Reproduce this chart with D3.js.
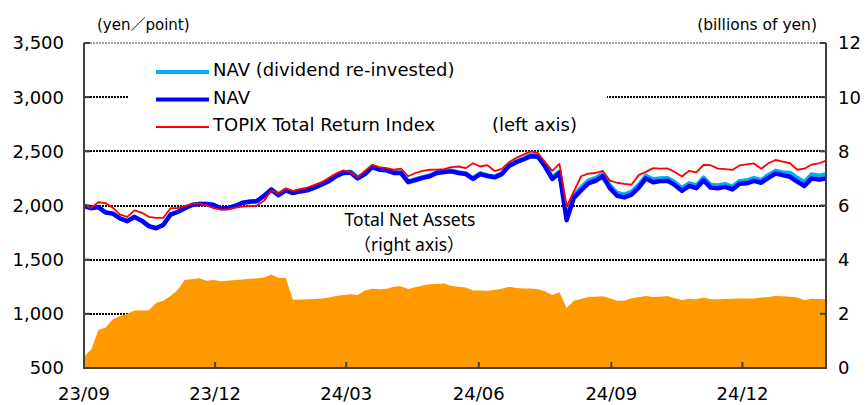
<!DOCTYPE html>
<html>
<head>
<meta charset="utf-8">
<script src="https://cdn.jsdelivr.net/npm/d3@7"></script>
<style>
  html, body { margin: 0; padding: 0; background: #fff; }
  svg { display: block; }
</style>
</head>
<body>
<div id="chart"></div>
<script>
// sample dates (every 5 days)
const dates = [
  '2023-09-01', '2023-09-06', '2023-09-11', '2023-09-16', '2023-09-21', '2023-09-26', '2023-10-01', '2023-10-06', '2023-10-11', '2023-10-16',
  '2023-10-21', '2023-10-26', '2023-10-31', '2023-11-05', '2023-11-10', '2023-11-15', '2023-11-20', '2023-11-25', '2023-11-30', '2023-12-05',
  '2023-12-10', '2023-12-15', '2023-12-20', '2023-12-25', '2023-12-30', '2024-01-04', '2024-01-09', '2024-01-14', '2024-01-19', '2024-01-24',
  '2024-01-29', '2024-02-03', '2024-02-08', '2024-02-13', '2024-02-18', '2024-02-23', '2024-02-28', '2024-03-04', '2024-03-09', '2024-03-14',
  '2024-03-19', '2024-03-24', '2024-03-29', '2024-04-03', '2024-04-08', '2024-04-13', '2024-04-18', '2024-04-23', '2024-04-28', '2024-05-03',
  '2024-05-08', '2024-05-13', '2024-05-18', '2024-05-23', '2024-05-28', '2024-06-02', '2024-06-07', '2024-06-12', '2024-06-17', '2024-06-22',
  '2024-06-27', '2024-07-02', '2024-07-07', '2024-07-12', '2024-07-17', '2024-07-22', '2024-07-27', '2024-08-01', '2024-08-06', '2024-08-11',
  '2024-08-16', '2024-08-21', '2024-08-26', '2024-08-31', '2024-09-05', '2024-09-10', '2024-09-15', '2024-09-20', '2024-09-25', '2024-09-30',
  '2024-10-05', '2024-10-10', '2024-10-15', '2024-10-20', '2024-10-25', '2024-10-30', '2024-11-04', '2024-11-09', '2024-11-14', '2024-11-19',
  '2024-11-24', '2024-11-29', '2024-12-04', '2024-12-09', '2024-12-14', '2024-12-19', '2024-12-24', '2024-12-29', '2025-01-03', '2025-01-08',
  '2025-01-13', '2025-01-18', '2025-01-23', '2025-01-28',
];

// NAV (dividend re-invested), yen
const navDividend = [
  1996, 1976, 1986, 1936, 1926, 1881, 1856, 1896, 1861, 1811,
  1791, 1821, 1916, 1941, 1976, 2006, 2016, 2016, 2006, 1976,
  1979, 1996, 2026, 2036, 2041, 2091, 2153, 2103, 2148, 2123,
  2138, 2148, 2173, 2203, 2233, 2278, 2308, 2313, 2258, 2298,
  2363, 2338, 2333, 2308, 2308, 2223, 2243, 2263, 2278, 2308,
  2318, 2323, 2308, 2298, 2253, 2298, 2280, 2268, 2298, 2373,
  2408, 2433, 2470, 2465, 2375, 2260, 2315, 1892, 2097, 2167,
  2232, 2255, 2297, 2187, 2117, 2102, 2127, 2192, 2277, 2242,
  2252, 2255, 2217, 2162, 2207, 2187, 2259, 2192, 2187, 2199,
  2175, 2227, 2232, 2255, 2237, 2282, 2322, 2307, 2303, 2258,
  2218, 2288, 2278, 2288,
];

// NAV, yen
const nav = [
  1995, 1975, 1985, 1935, 1925, 1880, 1855, 1895, 1860, 1810,
  1790, 1820, 1915, 1940, 1975, 2005, 2015, 2015, 2005, 1975,
  1978, 1995, 2025, 2035, 2040, 2090, 2145, 2095, 2140, 2115,
  2130, 2140, 2165, 2195, 2225, 2270, 2300, 2305, 2250, 2290,
  2355, 2330, 2325, 2300, 2300, 2215, 2235, 2255, 2270, 2300,
  2310, 2315, 2300, 2290, 2245, 2290, 2272, 2260, 2290, 2365,
  2400, 2425, 2455, 2450, 2360, 2245, 2300, 1865, 2070, 2140,
  2205, 2228, 2270, 2160, 2090, 2075, 2100, 2165, 2250, 2215,
  2225, 2228, 2190, 2135, 2180, 2160, 2232, 2165, 2160, 2172,
  2148, 2200, 2205, 2228, 2210, 2255, 2295, 2280, 2265, 2220,
  2180, 2250, 2240, 2250,
];

// TOPIX Total Return Index (rebased), points
const topixTR = [
  2000, 1978, 2030, 2022, 1980, 1915, 1895, 1955, 1935, 1895,
  1885, 1885, 1975, 1975, 1995, 2015, 2020, 2000, 1975, 1965,
  1965, 1980, 1990, 1995, 2000, 2045, 2140, 2115, 2155, 2135,
  2150, 2165, 2190, 2215, 2255, 2295, 2325, 2310, 2262, 2320,
  2375, 2355, 2345, 2330, 2340, 2270, 2300, 2320, 2330, 2332,
  2335, 2355, 2360, 2345, 2390, 2360, 2372, 2318, 2338, 2400,
  2440, 2470, 2500, 2485, 2400, 2320, 2385, 1990, 2130, 2270,
  2295, 2300, 2320, 2230, 2210, 2200, 2192, 2280, 2310, 2345,
  2340, 2342, 2310, 2268, 2320, 2305, 2375, 2372, 2340, 2335,
  2328, 2370, 2380, 2388, 2340, 2390, 2420, 2405, 2390, 2330,
  2340, 2378, 2388, 2415,
];

// Total Net Assets, billions of yen
const totalNetAssets = [
  0.42, 0.68, 1.40, 1.50, 1.80, 1.92, 2.00, 2.12, 2.12, 2.13,
  2.40, 2.48, 2.66, 2.88, 3.26, 3.28, 3.31, 3.22, 3.25, 3.20,
  3.22, 3.25, 3.27, 3.30, 3.31, 3.34, 3.45, 3.32, 3.33, 2.52,
  2.53, 2.54, 2.55, 2.57, 2.60, 2.66, 2.70, 2.72, 2.70, 2.86,
  2.93, 2.91, 2.93, 3.00, 3.02, 2.92, 2.98, 3.05, 3.09, 3.10,
  3.12, 3.03, 3.00, 2.97, 2.86, 2.86, 2.85, 2.88, 2.93, 3.00,
  2.95, 2.94, 2.94, 2.91, 2.83, 2.70, 2.80, 2.22, 2.48, 2.55,
  2.62, 2.63, 2.65, 2.58, 2.48, 2.48, 2.58, 2.61, 2.66, 2.62,
  2.63, 2.66, 2.58, 2.51, 2.56, 2.54, 2.60, 2.54, 2.54, 2.55,
  2.56, 2.57, 2.57, 2.57, 2.60, 2.62, 2.66, 2.65, 2.63, 2.60,
  2.51, 2.56, 2.55, 2.54,
];

// axis ticks
const leftTicks = [500, 1000, 1500, 2000, 2500, 3000, 3500];
const rightTicks = [0, 2, 4, 6, 8, 10, 12];
const monthTicks = ['2023-09-01', '2023-12-01', '2024-03-01', '2024-06-01', '2024-09-01', '2024-12-01'];

const legendLabels = ['NAV (dividend re-invested)', 'NAV', 'TOPIX Total Return Index'];

const width = 867;
const height = 405;
const margin = { top: 43, right: 41, bottom: 37, left: 84 };

const parse = d3.utcParse('%Y-%m-%d');
const days = dates.map(parse);

const svg = d3
  .select('#chart')
  .append('svg')
  .attr('width', width)
  .attr('height', height);

const x = d3
  .scaleUtc()
  .domain(d3.extent(days))
  .range([margin.left, width - margin.right]);

const yLeft = d3
  .scaleLinear()
  .domain([500, 3500])
  .range([height - margin.bottom, margin.top]);

const yRight = d3
  .scaleLinear()
  .domain([0, 12])
  .range([height - margin.bottom, margin.top]);

const font = 'DejaVu Sans, Verdana, sans-serif';
const axisColor = '#404040';

// dotted gridlines (the 1,000 line sits behind the area)
svg
  .append('g')
  .selectAll('line')
  .data(leftTicks.filter(d => d > 500 && d < 3500))
  .enter()
  .append('line')
  .attr('x1', margin.left)
  .attr('x2', width - margin.right)
  .attr('y1', d => Math.round(yLeft(d)))
  .attr('y2', d => Math.round(yLeft(d)))
  .style('stroke', '#000')
  .style('stroke-width', 2)
  .style('stroke-dasharray', '2,1')
  .style('shape-rendering', 'crispEdges');

// top border
svg
  .append('line')
  .attr('x1', margin.left)
  .attr('x2', width - margin.right)
  .attr('y1', Math.round(yLeft(3500)))
  .attr('y2', Math.round(yLeft(3500)))
  .style('stroke', '#a0a0a0')
  .style('stroke-width', 2)
  .style('stroke-dasharray', '2,1')
  .style('shape-rendering', 'crispEdges');

// total net assets area (right axis)
const area = d3
  .area()
  .x((d, i) => x(days[i]))
  .y0(yRight(0))
  .y1(d => yRight(d));

svg
  .append('path')
  .datum(totalNetAssets)
  .attr('d', area)
  .attr('fill', '#ff9900');

// legend background hides the 3,000 gridline
svg
  .append('rect')
  .attr('x', 128)
  .attr('y', 52)
  .attr('width', 479)
  .attr('height', 88)
  .attr('fill', '#fff');

// lines (left axis)
const line = d3
  .line()
  .x((d, i) => x(days[i]))
  .y(d => yLeft(d));

const series = [
  { values: navDividend, color: '#00b0f0', w: 4 },
  { values: nav, color: '#0000ff', w: 4.5 },
  { values: topixTR, color: '#ff0000', w: 1.8 },
];

svg
  .append('g')
  .selectAll('path')
  .data(series)
  .enter()
  .append('path')
  .attr('d', d => line(d.values))
  .attr('fill', 'none')
  .attr('stroke', d => d.color)
  .attr('stroke-width', d => d.w)
  .attr('stroke-linejoin', 'round');

// legend
const legend = svg
  .append('g')
  .selectAll('g')
  .data(series)
  .enter()
  .append('g')
  .attr('transform', (d, i) => `translate(156, ${72 + i * 27.5})`);

legend
  .append('line')
  .attr('x1', 0)
  .attr('x2', 53)
  .style('stroke', d => d.color)
  .style('stroke-width', d => (d.w > 2 ? 4 : 2));

legend
  .append('text')
  .text((d, i) => legendLabels[i])
  .attr('x', 57)
  .attr('y', 4)
  .style('font-family', font)
  .style('font-size', '18px')
  .style('fill', '#000');

svg
  .append('text')
  .text('(left axis)')
  .attr('x', 492)
  .attr('y', 131)
  .style('font-family', font)
  .style('font-size', '18px');

svg
  .append('text')
  .text('Total Net Assets')
  .attr('x', 410)
  .attr('y', 226)
  .style('text-anchor', 'middle')
  .style('font-family', 'Noto Sans, Noto Sans CJK JP, sans-serif')
  .style('font-size', '17.5px');

svg
  .append('text')
  .text('（right axis）')
  .attr('x', 409)
  .attr('y', 251)
  .style('text-anchor', 'middle')
  .style('font-family', 'Noto Sans, Noto Sans CJK JP, sans-serif')
  .style('font-size', '17.5px');

// axes frame
svg
  .append('path')
  .attr('d', `M${margin.left},${margin.top}V${height - margin.bottom}H${width - margin.right}V${margin.top}`)
  .attr('fill', 'none')
  .style('stroke', axisColor)
  .style('stroke-width', 2);

// inward ticks
svg
  .append('g')
  .selectAll('line')
  .data(leftTicks)
  .enter()
  .append('line')
  .attr('x1', margin.left)
  .attr('x2', margin.left + 6)
  .attr('y1', d => yLeft(d))
  .attr('y2', d => yLeft(d))
  .style('stroke', axisColor)
  .style('stroke-width', 2);

svg
  .append('g')
  .selectAll('line')
  .data(rightTicks)
  .enter()
  .append('line')
  .attr('x1', width - margin.right - 6)
  .attr('x2', width - margin.right)
  .attr('y1', d => yRight(d))
  .attr('y2', d => yRight(d))
  .style('stroke', axisColor)
  .style('stroke-width', 2);

svg
  .append('g')
  .selectAll('line')
  .data(monthTicks.map(parse))
  .enter()
  .append('line')
  .attr('x1', d => x(d))
  .attr('x2', d => x(d))
  .attr('y1', height - margin.bottom)
  .attr('y2', height - margin.bottom - 6)
  .style('stroke', axisColor)
  .style('stroke-width', 2);

// tick labels
const fmtLeft = d3.format(',');
svg
  .append('g')
  .selectAll('text')
  .data(leftTicks)
  .enter()
  .append('text')
  .text(d => fmtLeft(d))
  .attr('x', 64)
  .attr('y', d => yLeft(d))
  .attr('dy', '0.36em')
  .style('text-anchor', 'end')
  .style('font-family', font)
  .style('font-size', '18px');

svg
  .append('g')
  .selectAll('text')
  .data(rightTicks)
  .enter()
  .append('text')
  .text(d => d)
  .attr('x', 838)
  .attr('y', d => yRight(d))
  .attr('dy', '0.36em')
  .style('font-family', font)
  .style('font-size', '18px');

const fmtMonth = d3.utcFormat('%y/%m');
svg
  .append('g')
  .selectAll('text')
  .data(monthTicks.map(parse))
  .enter()
  .append('text')
  .text(d => fmtMonth(d))
  .attr('x', d => x(d))
  .attr('y', 400)
  .style('text-anchor', 'middle')
  .style('font-family', font)
  .style('font-size', '18px');

// axis titles
svg
  .append('text')
  .text('(yen／point)')
  .attr('x', 97)
  .attr('y', 30)
  .style('font-family', 'DejaVu Sans, Noto Sans CJK JP, sans-serif')
  .style('font-size', '15px');

svg
  .append('text')
  .text('(billions of yen)')
  .attr('x', 817)
  .attr('y', 30)
  .style('text-anchor', 'end')
  .style('font-family', font)
  .style('font-size', '15.5px');
</script>
</body>
</html>
